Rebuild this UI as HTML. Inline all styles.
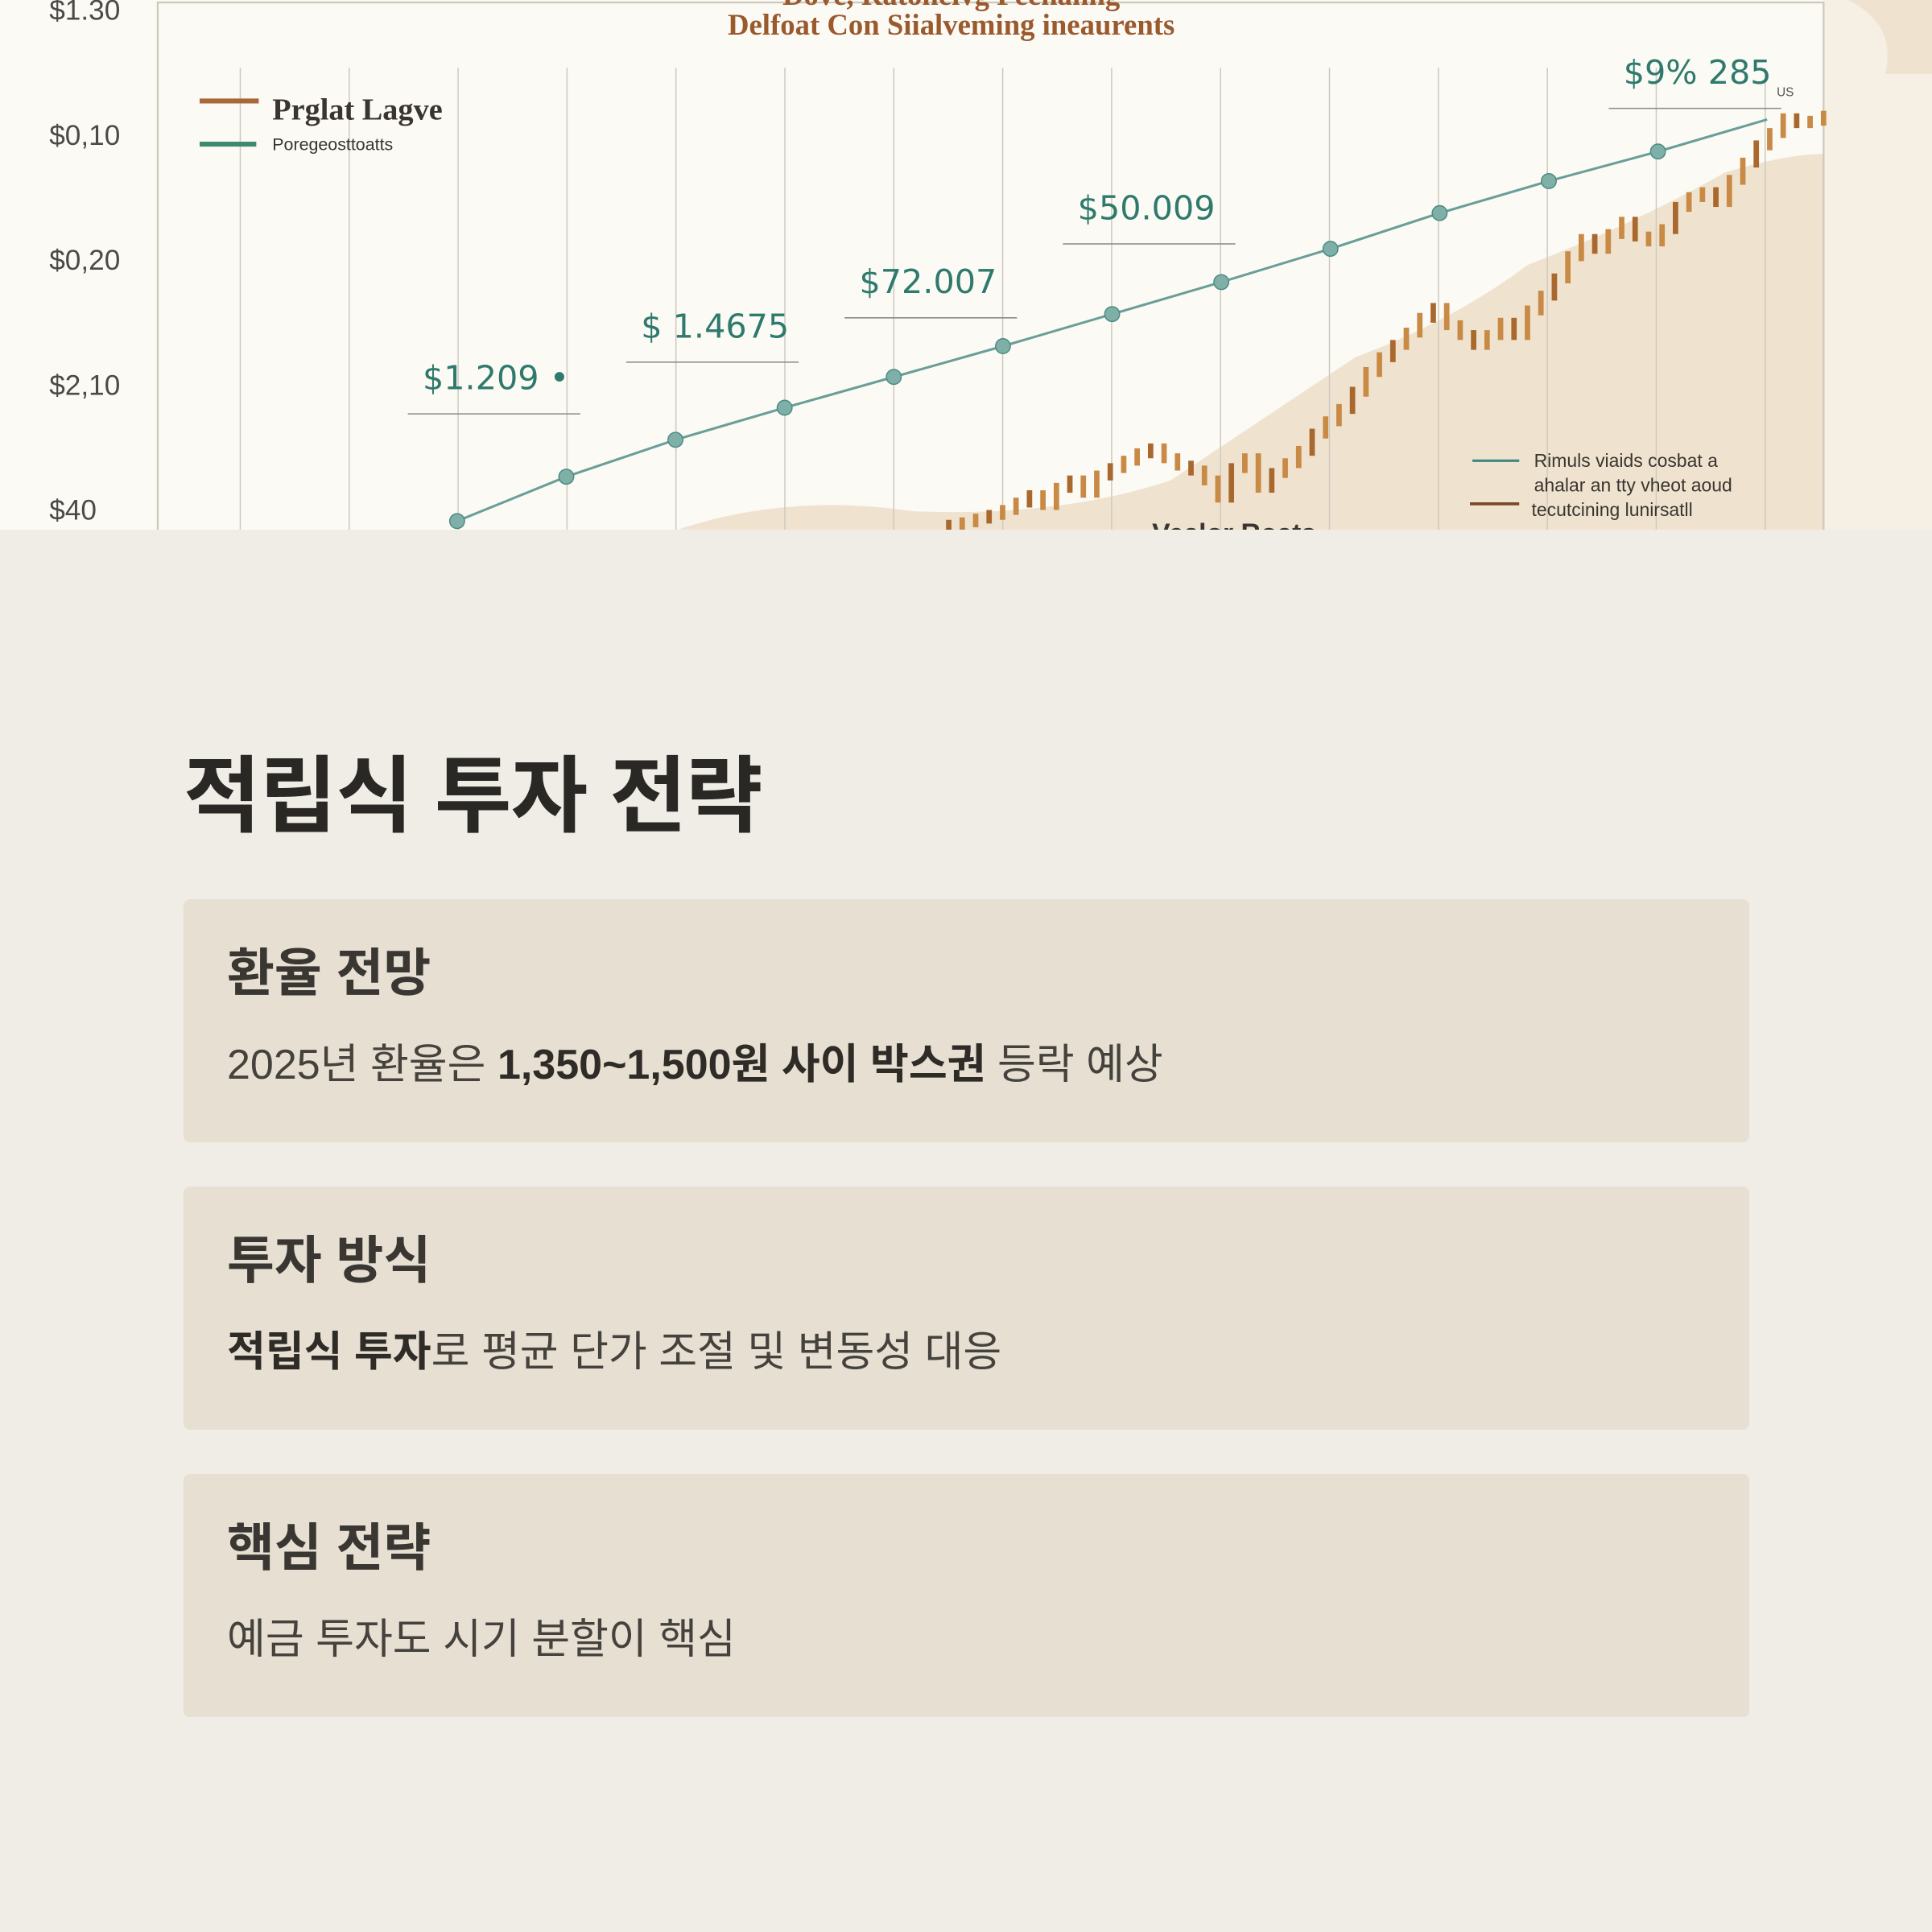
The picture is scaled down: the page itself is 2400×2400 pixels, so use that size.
<!DOCTYPE html>
<html><head><meta charset="utf-8">
<style>
html,body{margin:0;padding:0;}
body{width:2400px;height:2400px;background:#f0ede6;position:relative;overflow:hidden;font-family:"Liberation Sans","Noto Sans CJK KR",sans-serif;}
#chart{position:absolute;left:0;top:0;width:2400px;height:658px;display:block;}
h1{position:absolute;left:228px;top:938px;margin:0;font-size:104px;font-weight:700;color:#2a2825;letter-spacing:-1px;line-height:1;}
.card{position:absolute;left:228px;width:1945px;height:302px;background:#e6dfd2;border-radius:8px;}
.card h2{position:absolute;left:54px;top:60px;margin:0;font-size:64px;font-weight:700;color:#3a3733;line-height:1;}
.card p{position:absolute;left:54px;top:180px;margin:0;font-size:52px;color:#45423d;line-height:1;}
.card p b{font-weight:700;color:#2f2c28;}
</style></head><body>
<svg id="chart" viewBox="0 0 1568 430" preserveAspectRatio="none" xmlns="http://www.w3.org/2000/svg">
<rect x="0" y="0" width="1568" height="430" fill="#fcfaf5"/>
<path d="M1480 0 L1568 0 L1568 430 L1480 430 Z" fill="#f6efe3"/>
<path d="M1500 0 Q1540 20 1530 60 L1568 60 L1568 0 Z" fill="#efe3cf"/>
<path d="M550 430 Q640 400 740 415 Q860 420 950 390 Q1040 330 1100 290 Q1180 260 1240 215 Q1330 180 1400 140 Q1450 125 1480 125 L1480 430 Z" fill="#efe3cf"/>
<rect x="128" y="2" width="1352" height="440" fill="none" stroke="#cfc9bd" stroke-width="1.5"/>
<g id="grid"></g>
<g id="candles"></g>
<g id="teal"></g>
<g id="ylabels" font-family="Liberation Sans, sans-serif" font-size="23" fill="#4a4a48"></g>
<g id="annots" font-family="DejaVu Sans, sans-serif" font-size="27" fill="#2e7a6c"></g>
<text x="772" y="28" text-anchor="middle" font-family="Liberation Serif, serif" font-weight="700" font-size="24" fill="#9a5a2e">Delfoat Con Siialveming ineaurents</text>
<text x="772" y="4" text-anchor="middle" font-family="Liberation Serif, serif" font-weight="700" font-size="24" fill="#9a5a2e">Dove, Ratoneivg Peenanng</text>
<g>
<line x1="162" y1="82" x2="210" y2="82" stroke="#a8683a" stroke-width="4"/>
<text x="221" y="97" font-family="Liberation Serif, serif" font-weight="700" font-size="25" fill="#3a3530">Prglat Lagve</text>
<line x1="162" y1="117" x2="208" y2="117" stroke="#3e8a70" stroke-width="4"/>
<text x="221" y="122" font-family="Liberation Sans, sans-serif" font-size="14" fill="#3a3530">Poregeosttoatts</text>
</g>
<g font-family="Liberation Sans, sans-serif" font-size="15" fill="#3a3530">
<line x1="1195" y1="374" x2="1233" y2="374" stroke="#3e8a80" stroke-width="2"/>
<text x="1245" y="379">Rimuls viaids cosbat a</text>
<text x="1245" y="399">ahalar an tty vheot aoud</text>
<line x1="1193" y1="409" x2="1233" y2="409" stroke="#7a4a28" stroke-width="2.5"/>
<text x="1243" y="419">tecutcining lunirsatll</text>
</g>
<text x="935" y="440" font-family="Liberation Sans, sans-serif" font-weight="700" font-size="22" fill="#3a3530">Vealor Roats</text>
<text x="1442" y="78" font-family="Liberation Sans, sans-serif" font-size="10" fill="#555">US</text>
</svg>

<h1>적립식 투자 전략</h1>
<div class="card" style="top:1117px">
<h2>환율 전망</h2>
<p>2025년 환율은 <b>1,350~1,500원 사이 박스권</b> 등락 예상</p>
</div>
<div class="card" style="top:1474px">
<h2>투자 방식</h2>
<p><b>적립식 투자</b>로 평균 단가 조절 및 변동성 대응</p>
</div>
<div class="card" style="top:1831px">
<h2>핵심 전략</h2>
<p>예금 투자도 시기 분할이 핵심</p>
</div>

<script>
const NS="http://www.w3.org/2000/svg";
const yTickLabels=["$1.30","$0,10","$0,20","$2,10","$40"];
const tealValues=[7,43,73,99,124,149,175,201,228,257,283,307,333];
const candleValues=[4,6,9,12,16,22,28,20,34,40,30,44,50,56,62,66,58,52,48,40,26,50,58,34,46,54,64,78,88,98,112,128,140,150,160,172,180,166,158,150,158,168,158,178,190,204,222,236,228,240,250,238,234,244,262,270,274,266,284,298,312,322,334,330,332,336];
const annotValues=["$1.209 •","$ 1.4675","$72.007","$50.009","$9% 285"];
const annotIndex=[0,2,4,6,11];
const annotLevels=[124,166,202,262,372];

function xTeal(i){return 371+i*88.6;}
function yV(v){return 430-v;}
function xCandle(i){return 770+i*(1480-770)/(candleValues.length-1);}
function mk(tag,attrs,parent){const e=document.createElementNS(NS,tag);for(const k in attrs)e.setAttribute(k,attrs[k]);parent.appendChild(e);return e;}

const grid=document.getElementById('grid');
for(let i=0;i<15;i++){
  const x=195+i*88.4;
  const l=mk('line',{x1:x,y1:55,x2:x,y2:430,stroke:'#cfcac0','stroke-width':1},grid);
  
  
}
const yl=document.getElementById('ylabels');
yTickLabels.forEach((t,i)=>{
  const e=mk('text',{x:40,y:16+i*101.5},yl);e.textContent=t;
  
  
});
const cg=document.getElementById('candles');
candleValues.forEach((v,i)=>{
  const prev=i>0?candleValues[i-1]:v-3;
  const top=Math.max(v,prev)+4, bot=Math.min(v,prev)-4;
  const x=xCandle(i);
  const r=mk('rect',{x:x-2.2,y:yV(top),width:4.4,height:Math.max(6,top-bot),fill:i%3==0?'#a8682e':'#c98a45'},cg);
  
  
});
const tg=document.getElementById('teal');
const pts=tealValues.map((v,i)=>xTeal(i)+','+yV(v)).join(' ');
const pl=mk('polyline',{points:pts,fill:'none',stroke:'#6a9e98','stroke-width':2},tg);


tealValues.forEach((v,i)=>{
  if(i==tealValues.length-1)return;
  const c=mk('circle',{cx:xTeal(i),cy:yV(v),r:6,fill:'#7fb0a8',stroke:'#4e8c84','stroke-width':1},tg);
  
  
});
const ag=document.getElementById('annots');
annotIndex.forEach((idx,k)=>{
  const x=xTeal(idx)-28, y=yV(annotLevels[k])+10;
  const t=mk('text',{x:x,y:y},ag);t.textContent=annotValues[k];
  
  
  const l=mk('line',{x1:x-12,y1:y+20,x2:x+128,y2:y+20,stroke:'#8a8a85','stroke-width':1},ag);
  
  
});
</script>
</body></html>
